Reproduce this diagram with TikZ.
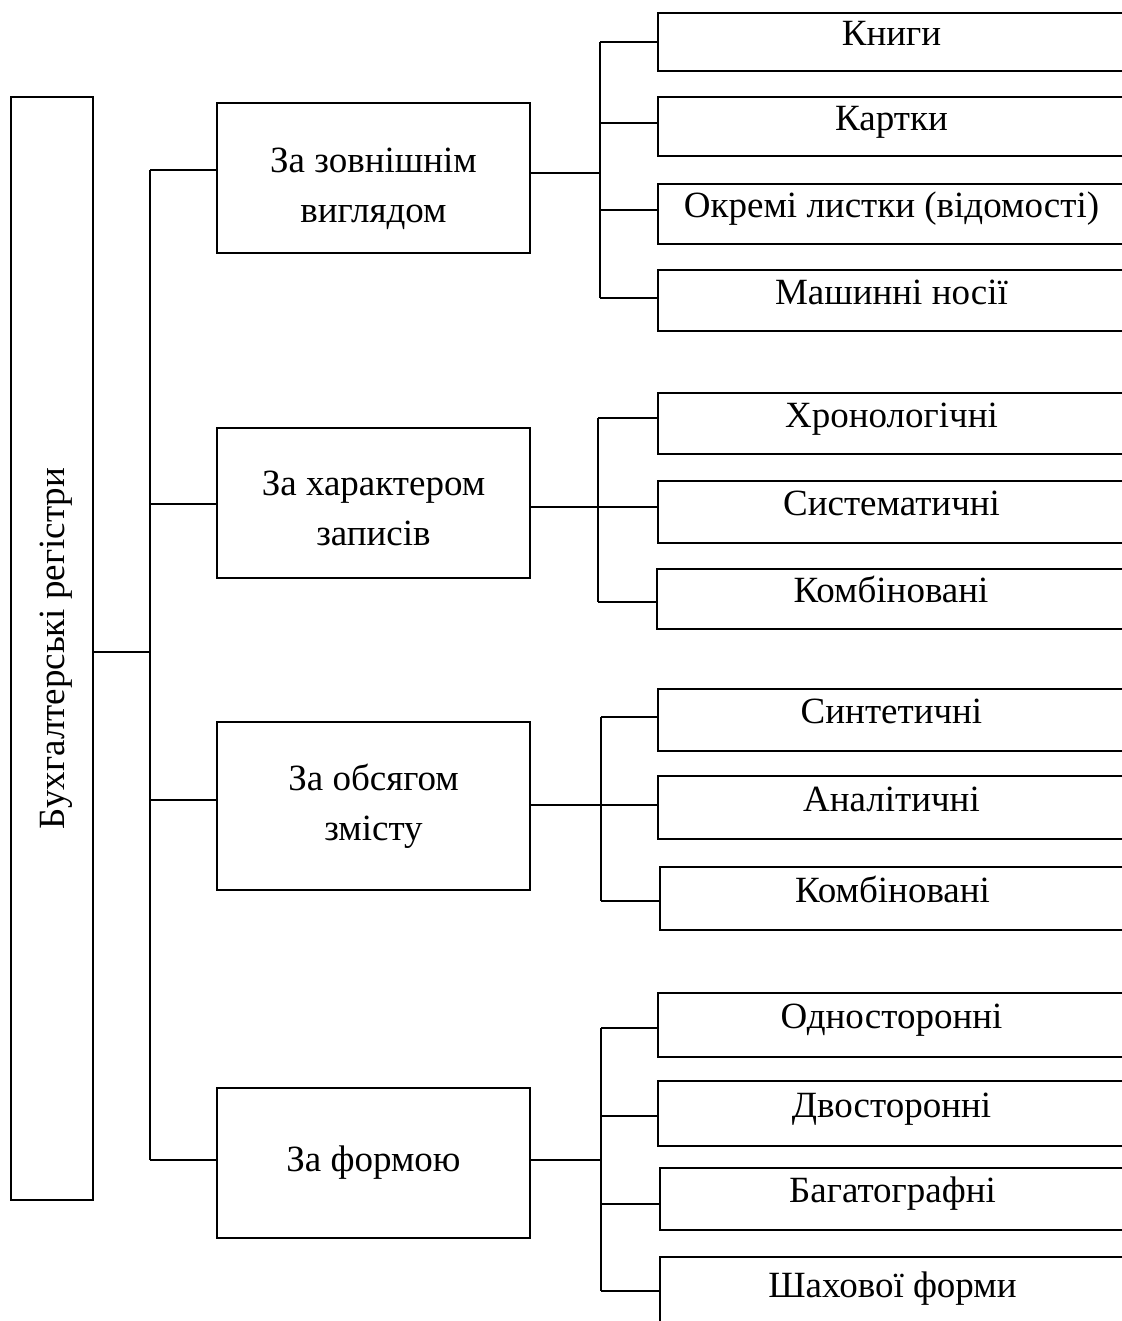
\documentclass[tikz,border=0pt]{standalone}
\usepackage{fontspec}
\setmainfont{Liberation Serif}
\begin{document}
\begin{tikzpicture}[x=1pt,y=-1pt,
  every node/.style={font=\fontsize{37}{50}\selectfont, inner sep=0pt},
  box/.style={draw, line width=1.5pt, rectangle, align=center, text height=1.0em, text depth=0.24em},
  cat/.style={draw, line width=1.5pt, rectangle, align=center, minimum width=313pt},
  sub/.style={box, minimum width=467pt},
  conn/.style={line width=1.5pt}]
\useasboundingbox (0,0) rectangle (1121,1321);
% root
\node[draw, line width=1.5pt, minimum width=82pt, minimum height=1103pt] (root) at (52,648.5) {\hspace{8pt}\rotatebox{90}{Бухгалтерські регістри}};
% categories
\node[cat, minimum height=150pt] (c1) at (373.5,178) {\rule{0pt}{46pt}За зовнішнім\\виглядом};
\node[cat, minimum height=150pt] (c2) at (373.5,503) {\rule{0pt}{36pt}За характером\\записів};
\node[cat, minimum height=168pt] (c3) at (373.5,806) {За обсягом\\змісту};
\node[cat, minimum height=150pt] (c4) at (373.5,1163) {За формою};
% sub boxes
\node[sub, minimum height=58pt] (s11) at (891.5,42) {Книги};
\node[sub, minimum height=59pt] (s12) at (891.5,126.5) {Картки};
\node[sub, minimum height=60pt] (s13) at (891.5,214) {Окремі листки (відомості)};
\node[sub, minimum height=61pt] (s14) at (891.5,300.5) {Машинні носії};
\node[sub, minimum height=61pt] (s21) at (891.5,423.5) {Хронологічні};
\node[sub, minimum height=62pt] (s22) at (891.5,512) {Систематичні};
\node[sub, minimum height=60pt, minimum width=468pt] (s23) at (891,599) {Комбіновані};
\node[sub, minimum height=62pt] (s31) at (891.5,720) {Синтетичні};
\node[sub, minimum height=63pt] (s32) at (891.5,807.5) {Аналітичні};
\node[sub, minimum height=63pt, minimum width=465pt] (s33) at (892.5,898.5) {Комбіновані};
\node[sub, minimum height=64pt] (s41) at (891.5,1025) {Односторонні};
\node[sub, minimum height=65pt] (s42) at (891.5,1113.5) {Двосторонні};
\node[sub, minimum height=62pt, minimum width=465pt] (s43) at (892.5,1199) {Багатографні};
\node[sub, minimum height=74pt, minimum width=465pt] (s44) at (892.5,1294) {Шахової форми};
% left bus
\coordinate (J0) at (150,652);
\coordinate (J1) at (150,170);
\coordinate (J2) at (150,504);
\coordinate (J3) at (150,800);
\coordinate (J4) at (150,1160);
\draw[conn] (J0 -| root.east) -- (J0);
\draw[conn] (J1) -- (J4);
\draw[conn] (J1) -- (J1 -| c1.west);
\draw[conn] (J2) -- (J2 -| c2.west);
\draw[conn] (J3) -- (J3 -| c3.west);
\draw[conn] (J4) -- (J4 -| c4.west);
% group 1
\coordinate (K1) at (600,173);
\coordinate (K11) at (600,42);
\coordinate (K12) at (600,123);
\coordinate (K13) at (600,210);
\coordinate (K14) at (600,298);
\draw[conn] (K1 -| c1.east) -- (K1);
\draw[conn] (K11) -- (K14);
\draw[conn] (K11) -- (K11 -| s11.west);
\draw[conn] (K12) -- (K12 -| s12.west);
\draw[conn] (K13) -- (K13 -| s13.west);
\draw[conn] (K14) -- (K14 -| s14.west);
% group 2
\coordinate (K2) at (598,507);
\coordinate (K21) at (598,418);
\coordinate (K22) at (598,507);
\coordinate (K23) at (598,602);
\draw[conn] (K2 -| c2.east) -- (K2);
\draw[conn] (K21) -- (K23);
\draw[conn] (K21) -- (K21 -| s21.west);
\draw[conn] (K22) -- (K22 -| s22.west);
\draw[conn] (K23) -- (K23 -| s23.west);
% group 3
\coordinate (K3) at (601,805);
\coordinate (K31) at (601,717);
\coordinate (K32) at (601,805);
\coordinate (K33) at (601,901);
\draw[conn] (K3 -| c3.east) -- (K3);
\draw[conn] (K31) -- (K33);
\draw[conn] (K31) -- (K31 -| s31.west);
\draw[conn] (K32) -- (K32 -| s32.west);
\draw[conn] (K33) -- (K33 -| s33.west);
% group 4
\coordinate (K4) at (601,1160);
\coordinate (K41) at (601,1028);
\coordinate (K42) at (601,1116);
\coordinate (K43) at (601,1204);
\coordinate (K44) at (601,1291);
\draw[conn] (K4 -| c4.east) -- (K4);
\draw[conn] (K41) -- (K44);
\draw[conn] (K41) -- (K41 -| s41.west);
\draw[conn] (K42) -- (K42 -| s42.west);
\draw[conn] (K43) -- (K43 -| s43.west);
\draw[conn] (K44) -- (K44 -| s44.west);
\end{tikzpicture}
\end{document}
